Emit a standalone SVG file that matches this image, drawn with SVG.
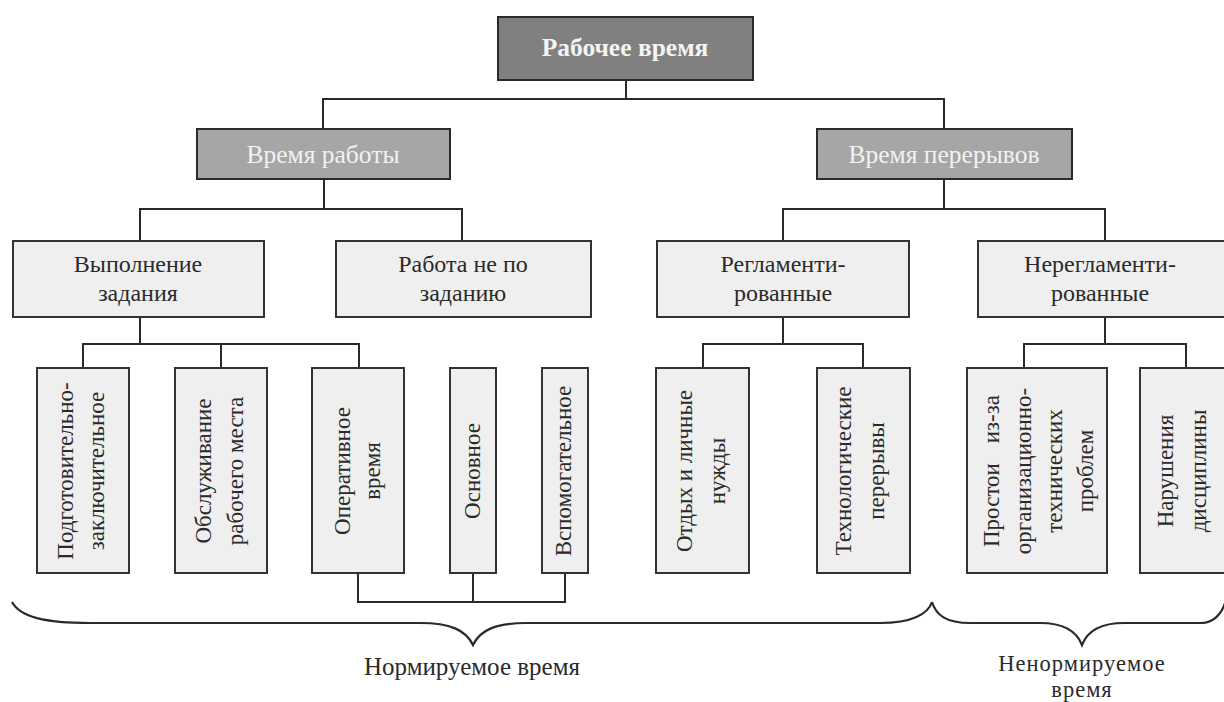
<svg xmlns="http://www.w3.org/2000/svg" width="1224" height="702" viewBox="0 0 1224 702">
<style>
text{font-family:"Liberation Serif","Times New Roman",serif;fill:#2a2a2a;text-anchor:middle}
.top{fill:#808080;stroke:#2a2a2a;stroke-width:2}
.mid{fill:#a6a6a6;stroke:#2a2a2a;stroke-width:2}
.box{fill:#efefef;stroke:#333;stroke-width:2}
.tl{font-size:25.5px;font-weight:bold;fill:#f4f4f4}
.ml{font-size:25.5px;fill:#f2f2f2}
.l3{font-size:24px}
.v{font-size:23px}
.lbl{font-size:25px}
.lbl2{font-size:22.5px;letter-spacing:1px}
.ln{fill:none;stroke:#2a2a2a;stroke-width:2}
.br{fill:none;stroke:#2a2a2a;stroke-width:2.2}
</style>
<rect width="1224" height="702" fill="#ffffff"/>
<g id="connectors" class="ln">
<path d="M626,80V99M323,129V99H944V129"/>
<path d="M324,179V209M140,241V209H462V241"/>
<path d="M944,179V209M783,241V209H1105V241"/>
<path d="M140,317V344M83,368V344H359V368M221,344V368"/>
<path d="M783,317V344M703,368V344H863V368"/>
<path d="M1105,317V344M1024,368V344H1186V368"/>
<path d="M358,573V602H565V573M473,573V602"/>
</g>
<g id="n-rabochee"><rect class="top" x="498" y="17" width="255" height="63"/><text class="tl" x="625" y="56">Рабочее время</text></g>
<g id="n-vremya-raboty"><rect class="mid" x="197" y="129" width="253" height="50"/><text class="ml" x="323" y="163">Время работы</text></g>
<g id="n-vremya-pereryvov"><rect class="mid" x="817" y="129" width="255" height="50"/><text class="ml" x="944" y="163">Время перерывов</text></g>
<g id="n-vypolnenie"><rect class="box" x="13" y="241" width="251" height="76"/><text class="l3" x="138"><tspan x="138" y="272">Выполнение</tspan><tspan x="138" y="301">задания</tspan></text></g>
<g id="n-rabota-ne"><rect class="box" x="336" y="241" width="255" height="76"/><text class="l3" x="463"><tspan x="463" y="272">Работа не по</tspan><tspan x="463" y="301">заданию</tspan></text></g>
<g id="n-reglament"><rect class="box" x="657" y="241" width="252" height="76"/><text class="l3" x="783"><tspan x="783" y="272">Регламенти-</tspan><tspan x="783" y="301">рованные</tspan></text></g>
<g id="n-nereglament"><rect class="box" x="978" y="241" width="256" height="76"/><text class="l3" x="1100"><tspan x="1100" y="272">Нерегламенти-</tspan><tspan x="1100" y="301">рованные</tspan></text></g>
<g id="n-podgot"><rect class="box" x="37" y="368" width="92" height="205"/><text class="v" transform="translate(82,471) rotate(-90)"><tspan x="0" y="-9">Подготовительно-</tspan><tspan x="0" y="22">заключительное</tspan></text></g>
<g id="n-obsluzh"><rect class="box" x="175" y="368" width="92" height="205"/><text class="v" transform="translate(221,471) rotate(-90)"><tspan x="0" y="-10">Обслуживание</tspan><tspan x="0" y="22">рабочего места</tspan></text></g>
<g id="n-operativ"><rect class="box" x="312" y="368" width="92" height="205"/><text class="v" transform="translate(358,471) rotate(-90)"><tspan x="0" y="-8">Оперативное</tspan><tspan x="0" y="22">время</tspan></text></g>
<g id="n-osnovnoe"><rect class="box" x="450" y="368" width="46" height="205"/><text class="v" transform="translate(473,471) rotate(-90)"><tspan x="0" y="7">Основное</tspan></text></g>
<g id="n-vspomog"><rect class="box" x="542" y="368" width="46" height="205"/><text class="v" transform="translate(565,471) rotate(-90)"><tspan x="0" y="6">Вспомогательное</tspan></text></g>
<g id="n-otdyh"><rect class="box" x="656" y="368" width="93" height="205"/><text class="v" transform="translate(702,471) rotate(-90)"><tspan x="0" y="-10">Отдых и личные</tspan><tspan x="0" y="23">нужды</tspan></text></g>
<g id="n-tehnolog"><rect class="box" x="817" y="368" width="93" height="205"/><text class="v" transform="translate(863,471) rotate(-90)"><tspan x="0" y="-12">Технологические</tspan><tspan x="0" y="21">перерывы</tspan></text></g>
<g id="n-prostoi"><rect class="box" x="967" y="368" width="140" height="205"/><text class="v" transform="translate(1037,471) rotate(-90)"><tspan x="0" y="-38" word-spacing="14">Простои из-за</tspan><tspan x="0" y="-6">организационно-</tspan><tspan x="0" y="25">технических</tspan><tspan x="0" y="56">проблем</tspan></text></g>
<g id="n-narush"><rect class="box" x="1140" y="368" width="94" height="205"/><text class="v" transform="translate(1183,471) rotate(-90)"><tspan x="0" y="-10">Нарушения</tspan><tspan x="0" y="23">дисциплины</tspan></text></g>
<g id="braces" class="br">
<path d="M12,602C20,617 45,623 90,623L420,623C450,623 466,630 473,645C480,630 496,623 526,623L880,623C912,623 928,614 932,602"/>
<path d="M932,602C936,615 946,623 970,623L1040,623C1064,623 1077,632 1082,645C1087,632 1100,623 1124,623L1200,623C1214,623 1222,614 1226,600"/>
</g>
<g id="labels">
<text class="lbl" x="472" y="675">Нормируемое время</text>
<text class="lbl2" x="1082"><tspan x="1082" y="671">Ненормируемое</tspan><tspan x="1082" y="697">время</tspan></text>
</g>
</svg>
